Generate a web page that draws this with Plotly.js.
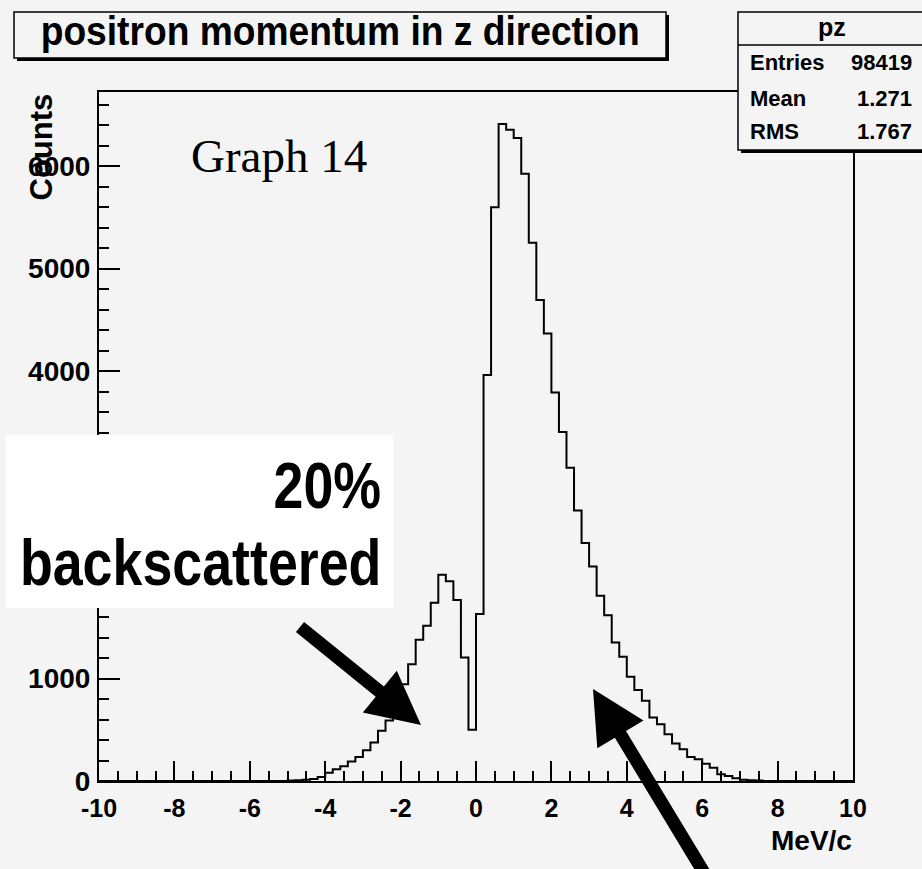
<!DOCTYPE html>
<html>
<head>
<meta charset="utf-8">
<script src="https://cdn.plot.ly/plotly-3.0.1.min.js"></script>
<style>
  html, body { margin: 0; padding: 0; background: #f4f4f4; }
  #chart { width: 922px; height: 869px; }
</style>
</head>
<body>
<div id="chart"></div>
<script>
// ---------------- data ----------------
const histName = 'pz';
const binLow = -10;
const binHigh = 10;
// 100 bins of 0.2 MeV/c from -10 to 10 (counts per bin)
const counts = [
  0, 0, 0, 0, 0, 0, 0, 0, 0, 0,
  0, 0, 0, 0, 0, 0, 0, 0, 0, 0,
  0, 0, 0, 0, 0, 5, 8, 12, 20, 40,
  80, 115, 145, 190, 235, 300, 375, 490, 590, 715,
  945, 1140, 1378, 1515, 1740, 2013, 1948, 1766, 1205, 500,
  1630, 3960, 5598, 6410, 6354, 6273, 5924, 5252, 4692, 4366,
  3790, 3405, 3057, 2640, 2321, 2093, 1808, 1618, 1351, 1212,
  1017, 887, 782, 619, 554, 456, 365, 310, 235, 212,
  169, 130, 65, 49, 26, 12, 8, 4, 0, 0,
  0, 0, 0, 0, 0, 0, 0, 0, 0, 0
];
const xTickVals = [-10, -8, -6, -4, -2, 0, 2, 4, 6, 8, 10];
const xTickText = ['-10', '-8', '-6', '-4', '-2', '0', '2', '4', '6', '8', '10'];
const yTickVals = [0, 1000, 2000, 3000, 4000, 5000, 6000];
// 2000 and 3000 are hidden behind the white note box in the picture
const yTickText = ['0', '1000', '', '', '4000', '5000', '6000'];
const statLabels = ['Entries', 'Mean', 'RMS'];
const statValues = ['98419', '1.271', '1.767'];
const titleText = 'positron momentum in z direction';
const xTitle = 'MeV/c';
const yTitle = 'Counts';
const graphLabel = 'Graph 14';
const noteLines = ['20%', 'backscattered'];

// ---------------- layout geometry (pixels) ----------------
const W = 922, H = 869;
const M = { l: 99, r: 69, t: 92, b: 88 };
const PW = W - M.l - M.r, PH = H - M.t - M.b;
const px = v => (v - M.l) / PW;          // page x pixel -> paper x
const py = v => (M.t + PH - v) / PH;     // page y pixel -> paper y
const BG = '#f4f4f4';
const SANS = 'Liberation Sans, Arial, sans-serif';
const SERIF = 'Liberation Serif, Times New Roman, serif';

// ---------------- histogram outline ----------------
const nb = counts.length;
const bw = (binHigh - binLow) / nb;
const edges = [];
for (let i = 0; i <= nb; i++) edges.push(binLow + i * bw);
const stepY = counts.concat([counts[nb - 1]]);

const trace = {
  type: 'scatter', mode: 'lines',
  x: edges, y: stepY,
  line: { shape: 'hv', color: '#000', width: 2 },
  hoverinfo: 'skip', showlegend: false
};

// ---------------- decorations ----------------
function rect(x0, y0, x1, y1, fill, lineW) {
  return {
    type: 'rect', xref: 'paper', yref: 'paper', layer: 'above',
    x0: px(x0), x1: px(x1), y0: py(y0), y1: py(y1),
    fillcolor: fill, line: { color: '#000', width: lineW || 0 }
  };
}
function hline(x0, x1, y, w) {
  return { type: 'line', xref: 'paper', yref: 'paper', layer: 'above',
    x0: px(x0), x1: px(x1), y0: py(y), y1: py(y), line: { color: '#000', width: w } };
}
function arrow(tail, tip, shaftW, headL, headW) {
  const dx = tip[0] - tail[0], dy = tip[1] - tail[1];
  const L = Math.hypot(dx, dy);
  const ux = dx / L, uy = dy / L, nx = -uy, ny = ux;
  const bx = tip[0] - ux * headL, by = tip[1] - uy * headL;
  const pts = [
    [tail[0] + nx * shaftW / 2, tail[1] + ny * shaftW / 2],
    [bx + nx * shaftW / 2, by + ny * shaftW / 2],
    [bx + nx * headW / 2, by + ny * headW / 2],
    [tip[0], tip[1]],
    [bx - nx * headW / 2, by - ny * headW / 2],
    [bx - nx * shaftW / 2, by - ny * shaftW / 2],
    [tail[0] - nx * shaftW / 2, tail[1] - ny * shaftW / 2]
  ];
  const d = 'M ' + pts.map(p => px(p[0]).toFixed(5) + ',' + py(p[1]).toFixed(5)).join(' L ') + ' Z';
  return { type: 'path', xref: 'paper', yref: 'paper', layer: 'above', path: d,
    fillcolor: '#000', line: { color: '#000', width: 0 } };
}

const shapes = [
  // title box with shadow
  rect(17, 15, 669, 61, '#000', 0),
  rect(14, 12, 666, 58, BG, 1.5),
  // stats box with shadow
  rect(741, 15, 930, 153, '#000', 0),
  rect(738, 12, 927, 150, BG, 1.5),
  hline(738, 927, 45, 1.5),
  // white note box
  rect(6, 435, 393, 608, '#ffffff', 0),
  // arrows
  arrow([300, 627], [421, 725], 13, 53, 54),
  arrow([706, 876], [593, 689], 13, 53, 54)
];

function txt(text, x, y, opts) {
  return Object.assign({
    text: text, xref: 'paper', yref: 'paper', x: px(x), y: py(y),
    showarrow: false, xanchor: 'center', yanchor: 'middle',
    font: { family: SANS, size: 22, color: '#000', weight: 'bold' }
  }, opts || {});
}

const annotations = [
  txt(titleText, 340, 31, { font: { family: SANS, size: 40, color: '#000', weight: 'bold' } }),
  txt(histName, 832, 27, { font: { family: SANS, size: 25, color: '#000', weight: 'bold' } }),
  txt(graphLabel, 189, 156, { xanchor: 'left', font: { family: SERIF, size: 47, color: '#000' } }),
  txt(yTitle, 41, 92, { textangle: -90, yanchor: 'top', font: { family: SANS, size: 31, color: '#000', weight: 'bold' } }),
  txt(xTitle, 854, 840, { xanchor: 'right', font: { family: SANS, size: 28, color: '#000', weight: 'bold' } }),
  txt(noteLines[0], 383, 486, { xanchor: 'right', font: { family: SANS, size: 64, color: '#000', weight: 'bold' } }),
  txt(noteLines[1], 383, 563, { xanchor: 'right', font: { family: SANS, size: 64, color: '#000', weight: 'bold' } })
];
const statYs = [63, 99, 131];
statLabels.forEach((lab, i) => {
  annotations.push(txt(lab, 748, statYs[i], { xanchor: 'left' }));
  annotations.push(txt(statValues[i], 914, statYs[i], { xanchor: 'right' }));
});

const axisCommon = {
  ticks: 'inside', tickwidth: 2, tickcolor: '#000',
  showline: true, linewidth: 2, linecolor: '#000', mirror: true,
  showgrid: false, zeroline: false, fixedrange: true, tickmode: 'array'
};

const layout = {
  width: W, height: H,
  margin: M,
  paper_bgcolor: BG, plot_bgcolor: BG,
  showlegend: false,
  hovermode: false,
  xaxis: Object.assign({}, axisCommon, {
    range: [binLow, binHigh], tickvals: xTickVals, ticktext: xTickText, ticklen: 20,
    tickfont: { family: SANS, size: 25, color: '#000', weight: 'bold' },
    ticklabelstandoff: 4,
    minor: { tickmode: 'linear', tick0: binLow, dtick: 0.5, ticks: 'inside', ticklen: 10, tickwidth: 2, tickcolor: '#000', showgrid: false }
  }),
  yaxis: Object.assign({}, axisCommon, {
    range: [0, 6722], tickvals: yTickVals, ticktext: yTickText, ticklen: 21,
    tickfont: { family: SANS, size: 28, color: '#000', weight: 'bold' },
    ticklabelstandoff: 1,
    minor: { tickmode: 'linear', tick0: 0, dtick: 200, ticks: 'inside', ticklen: 10, tickwidth: 2, tickcolor: '#000', showgrid: false }
  }),
  shapes: shapes,
  annotations: annotations
};

// horizontal squeeze of the condensed display texts (the reference uses a condensed face)
const squeeze = {};
squeeze[titleText] = [0.93, '50% 50%'];
squeeze[noteLines[0]] = [0.84, '100% 50%'];
squeeze[noteLines[1]] = [0.84, '100% 50%'];

Plotly.newPlot('chart', [trace], layout, { staticPlot: true, displayModeBar: false }).then(gd => {
  gd.querySelectorAll('.annotation text.annotation-text').forEach(t => {
    const s = squeeze[t.textContent];
    if (s) {
      t.style.transformBox = 'fill-box';
      t.style.transformOrigin = s[1];
      t.style.transform = 'scaleX(' + s[0] + ')';
    }
  });
});
</script>
</body>
</html>
